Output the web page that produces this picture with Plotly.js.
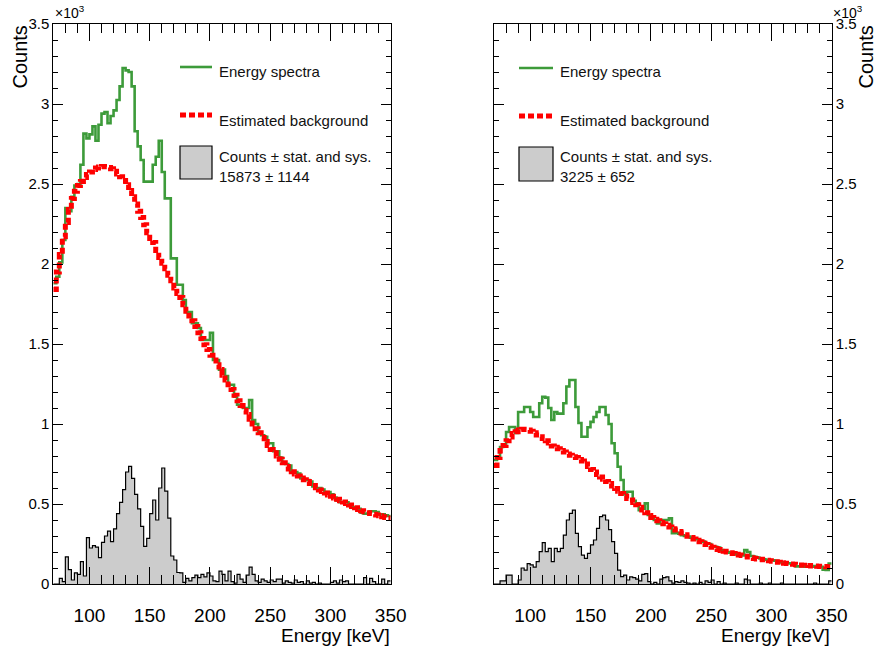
<!DOCTYPE html>
<html><head><meta charset="utf-8">
<script src="https://cdn.plot.ly/plotly-3.0.1.min.js"></script>
<style>html,body{margin:0;padding:0;background:#fff}#chart{width:876px;height:650px}</style>
</head><body><div id="chart"></div>
<script>
// ---- axis definitions ----
const E_MIN = 70, E_MAX = 350, BIN_WIDTH = 2.5;
const yTickVals = [0, 500, 1000, 1500, 2000, 2500, 3000, 3500];
const yTickText = ['0', '0.5', '1', '1.5', '2', '2.5', '3', '3.5'];

// ---- left panel (counts per 2.5 keV bin, 70..350 keV) ----
const leftSpectrum = [
  1880,1920,2010,2150,2350,2330,2420,2490,2500,2620,
  2815,2785,2810,2860,2770,2870,2940,2950,2880,2925,
  2960,3025,3110,3225,3210,3200,3110,2830,2735,2650,
  2515,2515,2515,2620,2670,2770,2575,2410,2410,2035,
  2035,1870,1870,1775,1700,1700,1630,1630,1600,1525,
  1525,1525,1570,1400,1400,1340,1340,1300,1245,1245,
  1170,1120,1110,1100,1100,1150,1025,1000,950,930,
  920,880,880,830,830,790,760,750,740,700,
  700,690,660,650,650,640,610,600,600,590,
  575,575,560,540,520,512,512,510,490,480,
  480,470,445,440,440,455,455,450,435,435,
  430,425];
const leftBackground = [
  1840,1950,2060,2170,2260,2340,2410,2455,2490,2515,
  2540,2560,2575,2590,2600,2607,2610,2608,2603,2595,
  2580,2562,2545,2522,2495,2460,2420,2375,2330,2290,
  2245,2195,2160,2135,2085,2040,2005,1970,1930,1895,
  1850,1815,1790,1745,1705,1675,1645,1610,1570,1535,
  1495,1465,1430,1400,1370,1340,1305,1275,1245,1215,
  1180,1145,1115,1085,1060,1030,1000,970,945,915,
  890,865,840,820,800,780,758,735,718,702,
  688,675,662,652,640,628,615,602,588,578,
  568,557,548,538,530,520,512,503,494,485,
  476,466,458,451,446,440,436,431,426,421,
  416,412];
const leftSignal = [
  0,0,35,15,170,90,25,70,60,140,
  50,290,225,240,230,165,260,300,330,265,
  345,440,510,590,700,735,660,560,470,360,
  235,285,440,525,400,600,725,580,412,175,
  150,72,70,10,35,20,40,55,40,60,
  45,70,50,20,15,80,60,20,80,15,
  5,60,30,10,55,105,60,20,10,30,
  20,10,25,15,30,30,5,20,10,5,
  25,10,15,0,20,5,10,0,5,0,
  0,0,10,20,5,25,15,20,0,0,
  0,0,0,40,0,35,15,0,0,30,
  0,20];

// ---- right panel ----
const rightSpectrum = [
  775,790,856,870,950,981,981,944,1075,1075,
  1106,1106,1075,1044,1044,1130,1170,1165,1100,1025,
  1075,1065,1065,1130,1234,1275,1275,1106,1006,920,
  920,980,1013,1044,1075,1106,1106,1056,1000,880,
  817,733,650,560,577,577,520,504,462,470,
  504,431,420,400,379,400,400,400,410,317,
  320,315,305,300,296,290,285,280,270,265,
  255,250,233,233,228,212,205,200,195,192,
  185,182,178,212,200,175,170,165,160,155,
  152,150,148,145,140,135,130,130,128,125,
  110,110,112,108,110,108,112,106,108,90,
  88,128];
const rightBackground = [
  740,790,835,865,895,918,940,952,962,967,
  966,962,955,945,932,920,910,895,882,862,
  855,845,835,825,812,805,795,790,778,768,
  750,735,715,700,685,668,655,640,628,612,
  597,580,565,550,535,525,510,495,480,462,
  445,428,415,405,395,385,377,367,357,346,
  337,328,318,308,298,290,282,273,264,255,
  247,238,229,222,216,210,205,200,195,190,
  186,182,178,173,168,164,160,157,154,151,
  148,145,142,139,136,133,130,128,125,123,
  121,119,117,116,115,113,112,111,110,109,
  108,108];
const rightSignal = [
  0,0,20,20,56,56,0,0,25,100,
  87,127,120,106,140,202,258,202,223,140,
  223,202,223,306,400,442,462,317,233,181,
  160,192,244,275,348,421,431,400,340,265,
  192,87,46,56,25,45,40,30,20,60,
  65,15,0,10,0,30,40,45,20,5,
  15,10,20,10,5,0,5,0,10,0,
  20,10,25,0,15,0,5,0,0,0,
  5,0,0,30,25,0,0,0,5,0,
  0,5,0,0,0,5,0,0,0,0,
  0,0,0,0,0,0,5,0,0,0,
  0,20];

// ---- texts ----
const legendNames = ['Energy spectra', 'Estimated background', 'Counts \u00b1 stat. and sys.'];
const leftTotal = '15873 \u00b1 1144';
const rightTotal = '3225 \u00b1 652';
const xTitle = 'Energy [keV]';
const yTitle = 'Counts';

// ---- helpers ----
const W = 876, H = 650;
const px = v => v / W, py = v => 1 - v / H;
const nBins = Math.round((E_MAX - E_MIN) / BIN_WIDTH);
const edges = Array.from({length: nBins + 1}, (_, i) => E_MIN + i * BIN_WIDTH);
const stepY = vals => vals.concat([vals[vals.length - 1]]);

const GREEN = '#3d9b3a', RED = '#ff0000', GREY = '#cccccc';
const FONT = 'Liberation Sans, Arial, Helvetica, sans-serif';

function panelTraces(sig, spec, bg, xa, ya) {
  return [
    {x: edges, y: stepY(sig), type: 'scatter', mode: 'lines', xaxis: xa, yaxis: ya,
     line: {shape: 'hv', color: '#000', width: 1.2}, fill: 'tozeroy', fillcolor: GREY, hoverinfo: 'skip'},
    {x: edges, y: stepY(spec), type: 'scatter', mode: 'lines', xaxis: xa, yaxis: ya,
     line: {shape: 'hv', color: GREEN, width: 2.6}, hoverinfo: 'skip'},
    {x: edges, y: stepY(bg), type: 'scatter', mode: 'lines', xaxis: xa, yaxis: ya,
     line: {shape: 'hv', color: RED, width: 5, dash: '6px,3px'}, hoverinfo: 'skip'}
  ];
}

const data = [].concat(
  panelTraces(leftSignal, leftSpectrum, leftBackground, 'x', 'y'),
  panelTraces(rightSignal, rightSpectrum, rightBackground, 'x2', 'y2')
);

function xAxis(domain, anchor) {
  return {domain: domain, anchor: anchor, range: [E_MIN, E_MAX], tick0: 0, dtick: 50,
    ticks: 'inside', ticklen: 17, tickwidth: 1, tickcolor: '#000', ticklabelstandoff: 14,
    showline: true, linecolor: '#000', linewidth: 1, mirror: 'allticks',
    showgrid: false, zeroline: false, tickfont: {family: FONT, size: 19, color: '#000'},
    minor: {tickmode: 'linear', tick0: 0, dtick: 10, ticks: 'inside', ticklen: 9, tickwidth: 1, tickcolor: '#000', showgrid: false}};
}
function yAxis(domain, anchor, side) {
  return {domain: domain, anchor: anchor, side: side, range: [0, 3500],
    tickmode: 'array', tickvals: yTickVals, ticktext: yTickText,
    ticks: 'inside', ticklen: 10, tickwidth: 1, tickcolor: '#000',
    showline: true, linecolor: '#000', linewidth: 1, mirror: 'allticks',
    showgrid: false, zeroline: false, tickfont: {family: FONT, size: 15, color: '#000'},
    minor: {tickmode: 'linear', tick0: 0, dtick: 100, ticks: 'inside', ticklen: 5, tickwidth: 1, tickcolor: '#000', showgrid: false}};
}

const yDom = [1 - 584 / H, 1 - 24 / H];

const shapes = [];
const annotations = [];
function legend(x0, x1, yLine, yDash, yBox0, yBox1, tx, total) {
  shapes.push({type: 'line', xref: 'paper', yref: 'paper', x0: px(x0), x1: px(x1), y0: py(yLine), y1: py(yLine),
               line: {color: GREEN, width: 2.6}});
  shapes.push({type: 'line', xref: 'paper', yref: 'paper', x0: px(x0), x1: px(x1), y0: py(yDash), y1: py(yDash),
               line: {color: RED, width: 5, dash: '6px,3px'}});
  shapes.push({type: 'rect', xref: 'paper', yref: 'paper', x0: px(x0), x1: px(x1), y0: py(yBox1), y1: py(yBox0),
               fillcolor: GREY, line: {color: '#000', width: 1.2}});
  const f = {family: FONT, size: 15, color: '#111'};
  const mk = (t, y) => ({text: t, xref: 'paper', yref: 'paper', x: px(tx), y: py(y), xanchor: 'left', yanchor: 'middle', showarrow: false, font: f});
  annotations.push(mk(legendNames[0], 72), mk(legendNames[1], 120), mk(legendNames[2], 157), mk(total, 176));
}
legend(180, 212, 67, 115, 146, 179, 217, leftTotal);
legend(519, 553, 68, 116, 147, 181, 558, rightTotal);

const tf = {family: FONT, size: 20, color: '#000'};
annotations.push(
  {text: yTitle, xref: 'paper', yref: 'paper', x: px(19), y: py(24), xanchor: 'center', yanchor: 'top', textangle: -90, showarrow: false, font: tf},
  {text: yTitle, xref: 'paper', yref: 'paper', x: px(865), y: py(24), xanchor: 'center', yanchor: 'top', textangle: -90, showarrow: false, font: tf},
  {text: '\u00d710<sup>3</sup>', xref: 'paper', yref: 'paper', x: px(53), y: py(23), xanchor: 'left', yanchor: 'bottom', showarrow: false, font: {family: FONT, size: 14, color: '#000'}},
  {text: '\u00d710<sup>3</sup>', xref: 'paper', yref: 'paper', x: px(831), y: py(23), xanchor: 'left', yanchor: 'bottom', showarrow: false, font: {family: FONT, size: 14, color: '#000'}},
  {text: xTitle, xref: 'paper', yref: 'paper', x: px(392), y: py(635), xanchor: 'right', yanchor: 'middle', showarrow: false, font: {family: FONT, size: 19, color: '#000'}},
  {text: xTitle, xref: 'paper', yref: 'paper', x: px(832), y: py(635), xanchor: 'right', yanchor: 'middle', showarrow: false, font: {family: FONT, size: 19, color: '#000'}}
);

const layout = {
  width: W, height: H, autosize: false, showlegend: false,
  margin: {l: 0, r: 0, t: 0, b: 0},
  paper_bgcolor: '#fff', plot_bgcolor: '#fff',
  xaxis: xAxis([53.3 / W, 390.7 / W], 'y'),
  yaxis: yAxis(yDom, 'x', 'left'),
  xaxis2: xAxis([494 / W, 831.7 / W], 'y2'),
  yaxis2: yAxis(yDom, 'x2', 'right'),
  shapes: shapes, annotations: annotations
};

Plotly.newPlot('chart', data, layout, {staticPlot: true, displayModeBar: false});
</script>
</body></html>
